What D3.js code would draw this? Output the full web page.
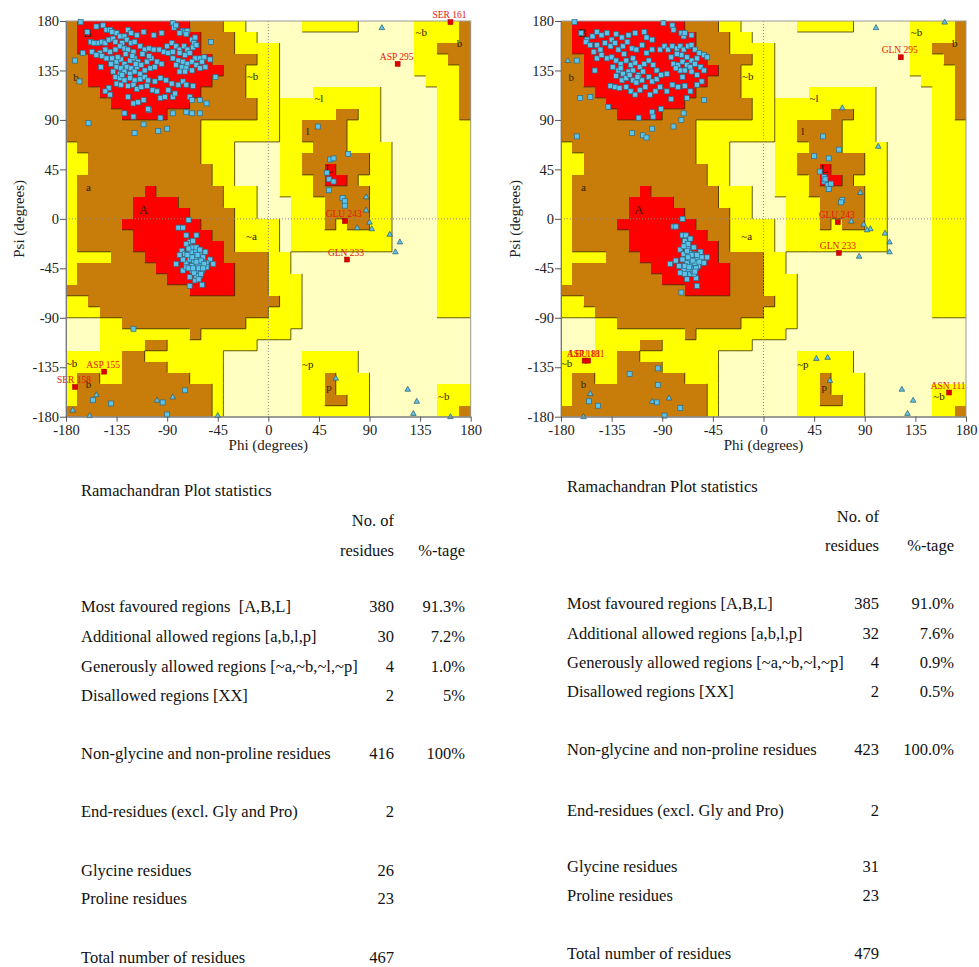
<!DOCTYPE html>
<html>
<head>
<meta charset="utf-8">
<script src="https://cdn.jsdelivr.net/npm/d3@7"></script>
<style>
    body { margin: 0; background: #fff; }
    svg text { font-family: "Liberation Serif", "Times New Roman", serif; }
</style>
</head>
<body>
<svg id="chart" width="979" height="967"></svg>
<script>
// region map, one string per 10 degree psi band (170..180 first, -180..-170 last),
// one char per 10 degree phi column from -180
// R core, b/l/p allowed, y/g/q generous, . disallowed
const regionRows = [
    "bRRRRRRRRRRbbbyy.....yyyyy.....yyyyb",
    "bRRRRRRRRRRRbbbyy..............yyyyb",
    "bRRRRRRRRRRRbbbyyyy............yybbb",
    "bbRRRRRRRRRRRbbbbyy............yyybb",
    "bbRRRRRRRRRRRRbbyyy............yyyyb",
    "bbRRRRRRRRRRRbbbyyy.............yyyb",
    "bbbRRRRRRRRRbbbbyyy...gggggg.....yyb",
    "bbbbRRRRRRRbbbbbbyyggggggggg.....yyb",
    "bbbbbRRRRbbbbbbbbyygggggllgg.....yyb",
    "bbbbbbbbbbbbyyyyyyyggllllggg.....yyy",
    "bbbbbbbbbbbbyyyyyyyggllllggg.....yyy",
    "ybbbbbbbbbbbyyy....ggglllgggg....yyy",
    "yybbbbbbbbbbyyy....ggllllllgg....yyy",
    "yybbbbbbbbbbbyy....ggllRlllgg....yyy",
    "ybbbbbbbbbbbbyy....ggglRRlggg....yyy",
    "ybbbbbbRbbbbbbyyy..ggglllllgg....yyy",
    "ybbbbbRRRRbbbbyyy...gggllllgg....yyy",
    "ybbbbbRRRRRbbbbyy...gggllllgg....yyy",
    "ybbbbRRRRRRRbbbyyyy.ggglgllgg....yyy",
    "ybbbbbRRRRRRRbbyyyy.ggggggggg....yyy",
    "ybbbbbRRRRRRRRbyyyy.ggggggggg....yyy",
    "yyyybbbRRRRRRRbbbbyy.............yyy",
    "ybbbbbbbRRRRRRRbbbyy.............yyy",
    "ybbbbbbbbRRRRRRbbbyyy............yyy",
    "bbbbbbbbbbbRRRRbbbyyy............yyy",
    "yybbbbbbbbbbbbbbbbbyy............yyy",
    "yyybbbbbbbbbbbbbbbyyy............yyy",
    "...yybbbbbbbbbbbyyyyy...............",
    "...yyyyyyyybyyyyyyyy................",
    "...yyyybbyyyyyyyy...................",
    "yyyyybbyyyyyyy.......qqqqq..........",
    "yyyyybbbbyyyyy.......qqqqq..........",
    "ybbyybbbbbbyyy.......qqpqqq.........",
    "ybbbbbbbbbbbby.......qqpqqq......yyy",
    "ybbbbbbbbbbbby.......qqppqq......yyy",
    "bbbbbbbbbbbbby.......qqqqqq......yyb"
];

const regionLabels = [
    ["B", -161, 170], ["b", -171, 129], ["~b", -14, 130], ["a", -160, 29],
    ["A", -111, 9], ["~a", -15, -16], ["~l", 45, 110], ["l", 35, 80],
    ["L", 54, 46], ["~b", 136, 170], ["b", 170, 160], ["~b", -175, -131],
    ["b", -160, -150], ["~p", 35, -132], ["p", 54, -153], ["~b", 156, -161]
];

const axisTicks = [-180, -135, -90, -45, 0, 45, 90, 135, 180];

// left plot residues [phi, psi]
const leftResidues = [
    [-167,179],[-153,175],[-147,176],[-144,172],[-141,172],[-139,170],[-161,170],[-135,169],
    [-125,172],[-122,169],[-117,167],[-111,170],[-102,167],[-95,169],[-85,178],[-84,174],
    [-82,176],[-76,171],[-74,170],[-72,171],[-73,168],[-79,169],[-68,163],[-66,160],[-65,165],
    [-158,161],[-155,160],[-151,160],[-148,161],[-145,160],[-142,163],[-138,164],[-136,161],
    [-132,166],[-128,166],[-126,163],[-130,160],[-122,160],[-119,161],[-114,157],[-110,154],
    [-106,155],[-102,154],[-97,154],[-93,152],[-90,157],[-86,160],[-82,157],[-79,154],
    [-75,157],[-72,154],[-67,156],[-64,158],[-89,151],[-85,152],[-79,151],[-74,149],[-70,151],
    [-65,146],[-61,146],[-57,147],[-52,145],[-165,151],[-132,157],[-128,155],[-125,154],
    [-120,152],[-136,154],[-141,152],[-150,151],[-157,152],[-145,154],
    [-153,149],[-148,148],[-144,146],[-139,146],[-135,143],[-131,145],[-128,141],[-123,144],
    [-119,146],[-116,143],[-126,138],[-122,137],[-117,138],[-113,140],[-108,143],[-104,146],
    [-99,143],[-95,141],[-135,138],[-131,137],[-138,134],[-132,132],[-128,134],[-123,132],
    [-119,134],[-114,132],[-149,138],[-110,135],[-105,137],[-101,138],[-85,146],[-80,144],
    [-76,143],[-72,141],[-68,143],[-64,140],[-61,137],[-56,138],[-82,140],[-77,138],[-73,137],
    [-68,135],[-79,134],[-74,134],[-59,143],
    [-136,129],[-132,128],[-128,126],[-123,128],[-119,126],[-114,127],[-110,129],[-107,126],
    [-101,125],[-96,128],[-91,126],[-86,123],[-80,122],[-76,125],[-73,122],[-67,121],
    [-135,123],[-131,122],[-125,121],[-120,122],[-117,118],[-113,120],[-108,121],[-103,117],
    [-99,116],[-142,119],[-145,116],[-141,113],[-125,111],[-120,105],[-116,106],[-111,108],
    [-106,99],[-96,110],[-92,111],[-89,117],[-85,111],[-83,114],[-70,111],[-68,108],[-61,108],
    [-47,129],[-55,105],[-61,96],[-68,96],[-73,97],[-85,96],[-96,92],[-107,100],[-120,93],
    [-128,96],[-160,87],[-119,78],[-111,86],[-98,80],[-90,82],[-168,125],[-172,144],[-51,161],
    [-134,147],[-127,150],[-121,148],[-112,150],[-140,141],[-118,141],[-106,148],[-130,131],
    // helix
    [-80,-8],[-76,-8],[-73,-15],[-64,-15],[-77,-29],[-70,-21],[-68,-26],[-65,-30],[-61,-32],
    [-58,-35],[-52,-37],[-49,-41],[-55,-40],[-61,-41],[-67,-41],[-73,-40],[-82,-41],[-76,-47],
    [-73,-44],[-68,-47],[-64,-47],[-59,-47],[-70,-53],[-65,-56],[-70,-61],[-59,-60],[-74,-32],
    [-62,-37],[-56,-30],[-67,-33],[-70,-37],[-64,-26],[-67,-20],[-73,-23],[-55,-44],[-61,-52],
    [-64,-52],[-76,-37],[-79,-33],[-66,-38],[-63,-43],[-60,-38],[-65,-35],[-62,-45],[-68,-43],
    [-57,-41],[-63,-33],[-69,-30],[-66,-49],[-60,-50],[-71,-45],[-58,-45],[-64,-39],[-61,-28],
    [-67,-45],[-62,-55],[-71,-27],[-68,-35],[-72,-33],[-71,-1],
    // others
    [-120,-100],[-156,-165],[-140,-168],[-94,-167],[-74,-156],[-90,-178],
    [44,84],[55,54],[58,55],[71,59],[52,42],[54,36],[58,34],[54,26],[66,19],[68,16],[68,12]
];
const leftGlycines = [
    [-174,-174],[-159,-179],[-153,-160],[-99,-165],[-85,-162],[-45,-179],
    [90,-3],[79,-8],[92,-9],[108,-14],[117,-21],[113,-30],[60,-145],[124,-155],
    [132,-166],[129,-177],[162,-180],[101,174],[87,20],[87,8]
];
const leftFlagged = [
    ["SER 161", 162, 179], ["ASP 295", 115, 141], ["GLU 243", 68, -2],
    ["GLN 233", 70, -37], ["ASP 155", -146, -139], ["SER 158", -172, -153]
];

// right plot residues [phi, psi]
const rightResidues = [
    [-168,179],[-162,169],[-157,163],[-158,161],[-152,166],[-148,170],[-144,167],[-139,169],
    [-135,163],[-131,168],[-126,165],[-120,167],[-114,169],[-106,170],[-104,165],[-99,163],
    [-89,178],[-81,176],[-80,172],[-73,169],[-71,166],[-70,169],[-64,167],
    [-154,158],[-148,158],[-151,152],[-145,154],[-141,160],[-136,157],[-132,160],[-129,154],
    [-125,157],[-121,161],[-117,155],[-113,154],[-108,158],[-104,151],[-99,154],[-92,154],
    [-88,157],[-85,154],[-81,157],[-77,155],[-74,157],[-71,154],[-67,157],[-64,158],[-61,154],
    [-57,151],[-53,149],[-50,147],[-59,146],[-64,144],[-68,147],[-73,149],[-77,150],[-82,147],
    [-148,146],[-144,149],[-139,146],[-135,147],[-131,144],[-127,141],[-122,144],[-118,140],
    [-114,142],[-110,138],[-106,141],[-102,144],[-98,140],[-95,135],[-134,138],[-129,135],
    [-125,132],[-120,134],[-116,135],[-111,131],[-107,134],[-131,130],[-126,126],[-122,128],
    [-116,126],[-113,124],[-108,126],[-102,129],[-99,125],[-95,127],[-91,131],[-86,132],
    [-80,141],[-76,140],[-72,143],[-68,140],[-65,138],[-61,141],[-56,138],[-53,135],[-70,135],
    [-74,135],[-78,137],[-64,134],[-59,131],[-55,125],[-72,129],
    [-150,135],[-136,121],[-132,120],[-128,119],[-122,120],[-118,116],[-114,113],[-110,117],
    [-105,120],[-101,113],[-96,116],[-92,120],[-86,116],[-81,122],[-76,120],[-70,121],[-65,116],
    [-59,122],[-53,108],[-68,110],[-82,109],[-91,100],[-99,97],[-98,93],[-111,92],[-138,102],
    [-154,111],[-163,110],[-166,75],[-117,78],[-107,76],[-104,74],[-99,82],[-80,84],[-73,90],
    [-71,96],[-166,144],[-124,150],[-116,146],[-127,137],[-112,129],[-119,131],
    // helix
    [-80,-7],[-78,-7],[-72,-15],[-69,-15],[-70,-20],[-65,-18],[-78,-38],[-83,-41],[-74,-28],
    [-71,-32],[-67,-27],[-62,-32],[-59,-37],[-56,-30],[-55,-35],[-50,-35],[-53,-40],[-58,-43],
    [-62,-44],[-67,-46],[-71,-46],[-74,-49],[-70,-50],[-65,-50],[-60,-54],[-68,-55],[-64,-41],
    [-68,-40],[-59,-61],[-73,-67],[-62,-26],[-67,-23],[-65,-36],[-61,-40],[-66,-31],[-63,-47],
    [-70,-43],[-57,-39],[-60,-45],[-64,-33],[-72,-37],[-68,-29],[-62,-50],[-66,-44],[-59,-33],
    [-71,-25],[-75,-43],[-63,-38],[-67,-35],[-61,-48],[-72,0],
    // others
    [-94,-136],[-119,-141],[-94,-151],[-155,-166],[-147,-170],[-95,-167],[-74,-172],[-88,-179],
    [53,75],[67,63],[45,57],[58,55],[50,43],[54,38],[54,34],[57,31],[60,32],[55,36],[58,27],
    [70,17],[69,15]
];
const rightGlycines = [
    [-154,-159],[-99,-166],[-84,-163],[-160,-180],[-174,144],
    [100,174],[161,179],[70,101],[102,66],[86,24],[78,-2],[89,-5],[95,-9],[92,-10],[108,-13],
    [112,-21],[112,-30],[85,-34],[59,-147],[123,-155],[133,-165],[128,-177],[47,-127],[57,-126]
];
const rightFlagged = [
    ["GLN 295", 122, 147], ["GLU 243", 66, -3], ["GLN 233", 67, -31],
    ["ASN 111", 165, -158], ["ASP 181", -159, -129], ["LEU 181", -156, -129]
];

// statistics tables
const leftStatLabels = [
    "Most favoured regions  [A,B,L]", "Additional allowed regions [a,b,l,p]",
    "Generously allowed regions [~a,~b,~l,~p]", "Disallowed regions [XX]",
    "Non-glycine and non-proline residues", "End-residues (excl. Gly and Pro)",
    "Glycine residues", "Proline residues", "Total number of residues"
];
const rightStatLabels = leftStatLabels.map(s => s.replace("  ", " "));
const leftCounts = [380, 30, 4, 2, 416, 2, 26, 23, 467];
const leftPercents = ["91.3%", "7.2%", "1.0%", "5%", "100%", "", "", "", ""];
const rightCounts = [385, 32, 4, 2, 423, 2, 31, 23, 479];
const rightPercents = ["91.0%", "7.6%", "0.9%", "0.5%", "100.0%", "", "", "", ""];

const fills = { "R": "#ff0000", "b": "#c87d0a", "l": "#c87d0a", "p": "#c87d0a",
    "y": "#ffff00", "g": "#ffff00", "q": "#ffff00", ".": "#ffffc2" };
const level = { "R": 3, "b": 2, "l": 2, "p": 2, "y": 1, "g": 1, "q": 1, ".": 0 };

const svg = d3.select("#chart");
const yScale = d3.scaleLinear().domain([-180, 180]).range([416.7, 21]);

function drawPlot(x0, x1, residues, glycines, flagged, psiLabelX) {
    const x = d3.scaleLinear().domain([-180, 180]).range([x0, x1]);
    const y = yScale;
    const g = svg.append("g");

    const cells = [];
    regionRows.forEach((row, r) => {
        for (let c = 0; c < 36; c++)
            cells.push({ phi: -180 + 10 * c, psi: 170 - 10 * r, k: row[c] });
    });

    g.selectAll("rect.cell")
        .data(cells)
        .join("rect")
        .attr("class", "cell")
        .attr("x", d => x(d.phi))
        .attr("y", d => y(d.psi + 10))
        .attr("width", d => x(d.phi + 10) - x(d.phi))
        .attr("height", d => y(d.psi) - y(d.psi + 10))
        .attr("fill", d => fills[d.k])
        .attr("shape-rendering", "crispEdges");

    // boundary lines on the right / lower side of each region
    let p = "";
    regionRows.forEach((row, r) => {
        const psi = 170 - 10 * r;
        for (let c = 0; c < 36; c++) {
            const phi = -180 + 10 * c, k = row[c];
            if (c < 35 && row[c + 1] !== k && level[k] >= level[row[c + 1]])
                p += `M${x(phi + 10)},${y(psi + 10)}V${y(psi)}`;
            if (r < 35 && regionRows[r + 1][c] !== k && level[k] >= level[regionRows[r + 1][c]])
                p += `M${x(phi)},${y(psi)}H${x(phi + 10)}`;
        }
    });
    g.append("path").attr("d", p).attr("fill", "none")
        .attr("stroke", "#3d3300").attr("stroke-width", 1).attr("opacity", 0.8);

    // zero lines
    g.append("line").attr("x1", x(0)).attr("x2", x(0)).attr("y1", y(180)).attr("y2", y(-180))
        .attr("stroke", "#888").attr("stroke-dasharray", "1,2");
    g.append("line").attr("x1", x(-180)).attr("x2", x(180)).attr("y1", y(0)).attr("y2", y(0))
        .attr("stroke", "#888").attr("stroke-dasharray", "1,2");

    g.append("rect").attr("x", x0).attr("y", y(180)).attr("width", x1 - x0)
        .attr("height", y(-180) - y(180)).attr("fill", "none").attr("stroke", "#999");

    g.selectAll("text.reg")
        .data(regionLabels)
        .join("text")
        .attr("class", "reg")
        .attr("x", d => x(d[1]))
        .attr("y", d => y(d[2]))
        .attr("dy", "0.35em")
        .attr("text-anchor", "middle")
        .attr("font-size", d => /[ABL]/.test(d[0]) ? 13 : 11)
        .attr("fill", "#2a2000")
        .text(d => d[0]);

    g.selectAll("rect.res")
        .data(residues)
        .join("rect")
        .attr("class", "res")
        .attr("x", d => x(d[0]) - 2.5)
        .attr("y", d => y(d[1]) - 2.5)
        .attr("width", 5).attr("height", 5)
        .attr("fill", "#5cc3ea").attr("stroke", "#2e6a86").attr("stroke-width", 0.7);

    g.selectAll("path.gly")
        .data(glycines)
        .join("path")
        .attr("class", "gly")
        .attr("d", d => `M${x(d[0])},${y(d[1]) - 3}L${x(d[0]) + 2.8},${y(d[1]) + 2}L${x(d[0]) - 2.8},${y(d[1]) + 2}Z`)
        .attr("fill", "#5cc3ea").attr("stroke", "#2e5a6a").attr("stroke-width", 0.7);

    g.selectAll("rect.flag")
        .data(flagged)
        .join("rect")
        .attr("class", "flag")
        .attr("x", d => x(d[1]) - 2.5)
        .attr("y", d => y(d[2]) - 2.5)
        .attr("width", 5).attr("height", 5)
        .attr("fill", "#e00000").attr("stroke", "#900").attr("stroke-width", 0.5);

    g.selectAll("text.flag")
        .data(flagged)
        .join("text")
        .attr("class", "flag")
        .attr("x", d => x(d[1]) - 1)
        .attr("y", d => y(d[2]) - 4)
        .attr("text-anchor", "middle")
        .attr("font-size", 9.5)
        .attr("fill", "#e5140c")
        .text(d => d[0]);

    // axes (plain hyphen minus like the original)
    const fmt = d => String(d);
    const ax = g.append("g").attr("transform", `translate(${x0},0)`)
        .call(d3.axisLeft(y).tickValues(axisTicks).tickFormat(fmt)
            .tickSize(6).tickPadding(1).tickSizeOuter(0));
    const bx = g.append("g").attr("transform", `translate(0,${y(-180)})`)
        .call(d3.axisBottom(x).tickValues(axisTicks).tickFormat(fmt)
            .tickSize(5).tickPadding(3).tickSizeOuter(0));
    [ax, bx].forEach(a => {
        a.select(".domain").attr("stroke", "#777");
        a.selectAll(".tick line").attr("stroke", "#555");
        a.selectAll("text").attr("font-size", 14.5).attr("fill", "#222");
    });

    g.append("text")
        .attr("x", (x0 + x1) / 2).attr("y", 450)
        .attr("text-anchor", "middle").attr("font-size", 15).attr("fill", "#222")
        .text("Phi (degrees)");
    g.append("text")
        .attr("transform", `translate(${psiLabelX},${(y(180) + y(-180)) / 2}) rotate(-90)`)
        .attr("text-anchor", "middle").attr("font-size", 15).attr("fill", "#222")
        .text("Psi (degrees)");
}

function drawTable(left, countRight, pctRight, top, rowY, labels, counts, pcts) {
    const g = svg.append("g").attr("font-size", 16.5).attr("fill", "#111");
    g.append("text").attr("x", left).attr("y", top[0]).text("Ramachandran Plot statistics");
    g.append("text").attr("x", countRight).attr("y", top[1]).attr("text-anchor", "end").text("No. of");
    g.append("text").attr("x", countRight).attr("y", top[2]).attr("text-anchor", "end").text("residues");
    g.append("text").attr("x", pctRight).attr("y", top[2]).attr("text-anchor", "end").text("%-tage");

    const rows = g.selectAll("g.row")
        .data(labels.map((l, i) => ({ label: l, n: counts[i], pct: pcts[i], y: rowY[i] })))
        .join("g").attr("class", "row");
    rows.append("text").attr("x", left).attr("y", d => d.y)
        .style("white-space", "pre").text(d => d.label);
    rows.append("text").attr("x", countRight).attr("y", d => d.y)
        .attr("text-anchor", "end").text(d => d.n);
    rows.append("text").attr("x", pctRight).attr("y", d => d.y)
        .attr("text-anchor", "end").text(d => d.pct);
}

drawPlot(66, 470.7, leftResidues, leftGlycines, leftFlagged, 24);
drawPlot(561, 966, rightResidues, rightGlycines, rightFlagged, 519.5);

drawTable(81, 394, 465, [495.5, 525.5, 555.5],
    [612.2, 642.2, 672.2, 700.5, 758.8, 817.2, 875.5, 903.8, 962.8],
    leftStatLabels, leftCounts, leftPercents);
drawTable(567, 879, 954, [491.5, 522.2, 550.5],
    [608.8, 638.8, 668.2, 697.2, 754.8, 815.5, 872.2, 900.5, 958.8],
    rightStatLabels, rightCounts, rightPercents);
</script>
</body>
</html>
